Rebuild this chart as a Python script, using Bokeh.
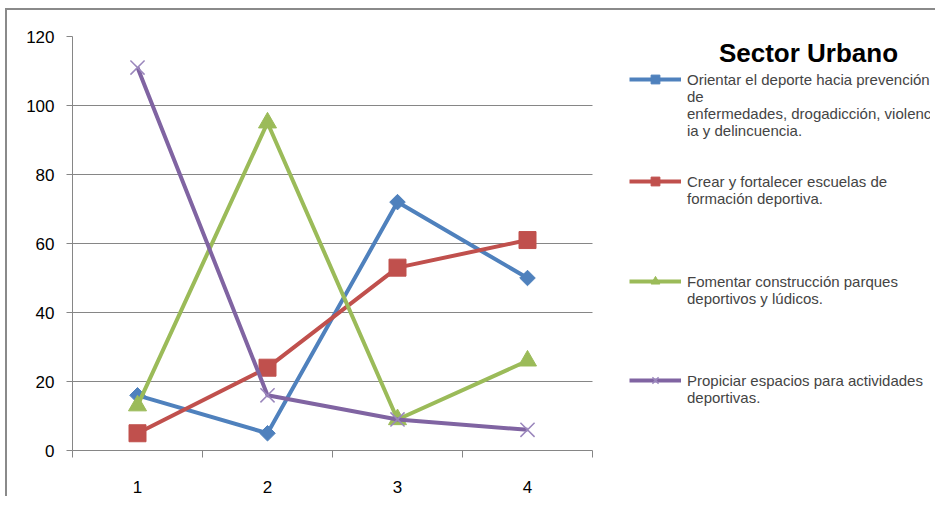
import math
from bokeh.plotting import figure
from bokeh.models import (Legend, LegendItem, Label, FixedTicker, Range1d)
from bokeh.embed import file_html
from bokeh.resources import INLINE

# ---- data ----
categories = [1, 2, 3, 4]
orientar = [16, 5, 72, 50]
crear = [5, 24, 53, 61]
fomentar = [13, 95, 9, 26]
propiciar = [111, 16, 9, 6]
y_ticks = [0, 20, 40, 60, 80, 100, 120]
series_labels = [
    "Orientar el deporte hacia prevención\nde\nenfermedades, drogadicción, violenc\nia y delincuencia.",
    "Crear y fortalecer escuelas de\nformación deportiva.",
    "Fomentar construcción parques\ndeportivos y lúdicos.",
    "Propiciar espacios para actividades\ndeportivas.",
]
title_text = "Sector Urbano"

FONT = "Liberation Sans"
GRID = "#868686"
BLUE, RED, GREEN, PURPLE = "#4F81BD", "#C0504D", "#9BBB59", "#8064A2"

CAT_PX = 130                      # pixels per category slot
FRAME_W = 858
FRAME_H = 414
x_lo = categories[0] - 0.5
x_hi_cat = categories[-1] + 0.5

p = figure(width=940, height=496, frame_width=FRAME_W, frame_height=FRAME_H,
           min_border_left=65, min_border_top=26, min_border_bottom=46,
           min_border_right=5,
           x_range=Range1d(x_lo, x_lo + FRAME_W / CAT_PX), y_range=Range1d(0, 120),
           output_backend="svg", toolbar_location=None,
           background_fill_color="white", border_fill_color="white",
           styles={"border-top": "2px solid #8a8a8a", "border-left": "2px solid #8a8a8a",
                   "box-sizing": "border-box", "margin-left": "5px", "margin-top": "8px"})
p.outline_line_color = None

# axes
p.yaxis.ticker = FixedTicker(ticks=y_ticks)
p.yaxis.axis_line_color = GRID
p.yaxis.major_tick_line_color = GRID
p.yaxis.major_tick_in = 0
p.yaxis.major_tick_out = 6
p.yaxis.minor_tick_line_color = None
p.yaxis.major_label_text_font = FONT
p.yaxis.major_label_text_font_size = "17px"
p.yaxis.major_label_text_color = "black"
p.yaxis.major_label_standoff = 12

p.xaxis.bounds = (x_lo, x_hi_cat)
p.xaxis.ticker = FixedTicker(ticks=categories,
                             minor_ticks=[c - 0.5 for c in categories] + [x_hi_cat])
p.xaxis.axis_line_color = GRID
p.xaxis.major_tick_line_color = None
p.xaxis.major_tick_in = 0
p.xaxis.major_tick_out = 0
p.xaxis.minor_tick_line_color = GRID
p.xaxis.minor_tick_in = 0
p.xaxis.minor_tick_out = 7
p.xaxis.major_label_text_font = FONT
p.xaxis.major_label_text_font_size = "17px"
p.xaxis.major_label_text_color = "black"
p.xaxis.major_label_standoff = 23

p.xgrid.grid_line_color = None
p.ygrid.grid_line_color = GRID
p.ygrid.grid_line_width = 1
p.ygrid.cross_bounds = (x_lo, x_hi_cat)

# series
r1l = p.line(categories, orientar, line_color=BLUE, line_width=4)
r1m = p.scatter(categories, orientar, marker="square", angle=math.pi / 4, size=11,
                fill_color=BLUE, line_color=BLUE)
r2l = p.line(categories, crear, line_color=RED, line_width=4)
r2m = p.scatter(categories, crear, marker="square", size=17, fill_color=RED, line_color=RED)
r3l = p.line(categories, fomentar, line_color=GREEN, line_width=4)
r3m = p.scatter(categories, fomentar, marker="triangle", size=18, fill_color=GREEN, line_color=GREEN)
r4l = p.line(categories, propiciar, line_color=PURPLE, line_width=4)
r4m = p.scatter(categories, propiciar, marker="x", size=20, line_color="#9A86BC", line_width=1.5)


def top_aligned(label):
    # the legend centres its sample glyph on the text block; pad the block above
    # so that the sample lines up with the first text line, as in the original
    n = label.count("\n")
    return "\n" * n + label


# one legend box per entry, so each entry sits where the original has it
LEG_X = 557                 # px right of the frame's left edge
ITEM_H = 130                # fixed box height; the sample sits at its middle
first_line_px = [79, 181, 281, 380]   # distance of each entry's first line from the top
frame_top_px = 36
renderer_pairs = [[r1l, r1m], [r2l, r2m], [r3l, r3m], [r4l, r4m]]

for lab, rs, top_px in zip(series_labels, renderer_pairs, first_line_px):
    bottom_from_frame_bottom = FRAME_H - (top_px - frame_top_px) - ITEM_H / 2
    lg = Legend(
        items=[LegendItem(label=top_aligned(lab), renderers=rs)],
        location=(LEG_X, bottom_from_frame_bottom),
        orientation="vertical",
        border_line_color=None, background_fill_alpha=0,
        padding=0, margin=0, spacing=0,
        glyph_width=52, glyph_height=22, label_height=ITEM_H,
        label_standoff=6,
        label_text_font=FONT, label_text_font_size="15px",
    )
    p.add_layout(lg, "center")

p.add_layout(Label(x=736, y=398, x_units="screen", y_units="screen", text=title_text,
                   text_font=FONT, text_font_size="26px", text_font_style="bold",
                   text_align="center", text_baseline="middle", text_color="black"))

open("out.html", "w").write(file_html(p, INLINE))
